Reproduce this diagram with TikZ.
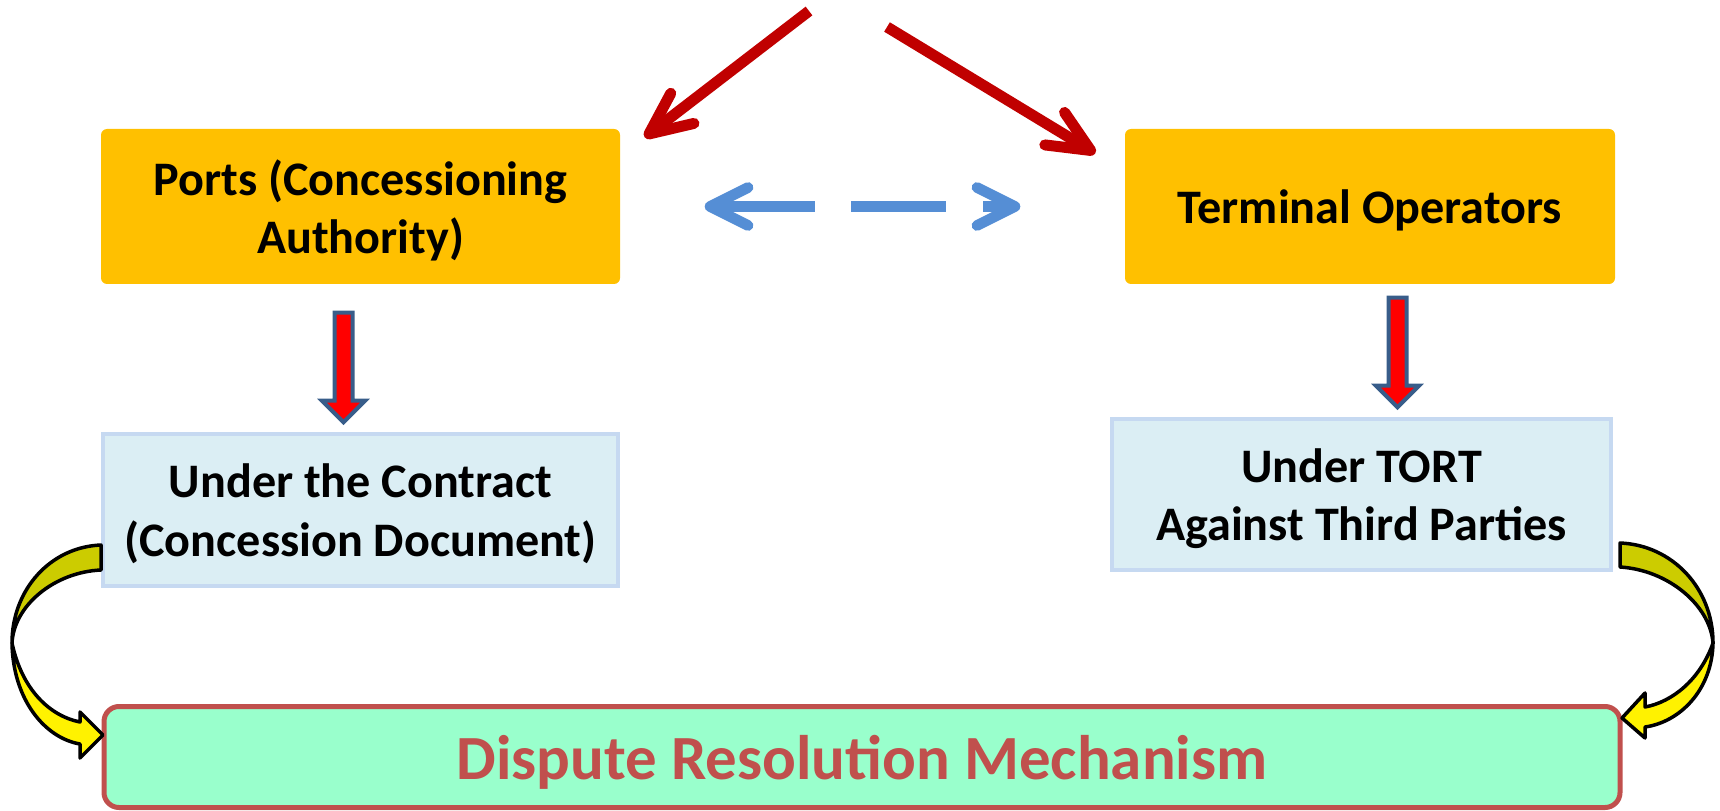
\documentclass[tikz,border=0pt]{standalone}
\usepackage{fontspec}
\setmainfont{Carlito}
\usepackage{tikz}
\usetikzlibrary{arrows.meta, calc}

\definecolor{partyorange}{HTML}{FFC000}
\definecolor{routefill}{HTML}{DBEEF4}
\definecolor{routeline}{HTML}{C6D9F1}
\definecolor{disputefill}{HTML}{99FFCC}
\definecolor{disputered}{HTML}{C0504D}
\definecolor{claimred}{HTML}{C00000}
\definecolor{linkblue}{HTML}{558ED5}
\definecolor{blockedge}{HTML}{385D8A}
\definecolor{ribbonback}{HTML}{CCCC00}

\begin{document}
\begin{tikzpicture}[x=0.1mm, y=-0.1mm,
    party/.style={fill=partyorange, rounded corners=0.6mm, minimum width=51.9mm, minimum height=15.5mm,
        text depth=0pt, align=center, font=\fontsize{13.7}{16.6}\selectfont\bfseries},
    route/.style={draw=routeline, line width=0.4mm, fill=routefill, minimum width=51.5mm, minimum height=15.2mm,
        text depth=0pt, align=center, font=\fontsize{13.7}{16.6}\selectfont\bfseries},
    claim/.style={-{Straight Barb[length=4.2mm, width=3.8mm, round]}, line width=1.1mm, draw=claimred},
    both/.style={{Straight Barb[length=3.8mm, width=3.8mm, round]}-{Straight Barb[length=3.8mm, width=3.8mm, round]},
        line width=1.07mm, draw=linkblue, dash pattern=on 10mm off 3.6mm on 9.5mm off 3.7mm on 6mm},
    blockarr/.style={draw=blockedge, line width=0.4mm, fill=red, line join=miter},
    ribbon/.style={draw=black, line width=0.35mm, line join=round},
]
\useasboundingbox (0,0) rectangle (1720,811);

% Parties
\node[party] (ports) at (360.5,206.5) {Ports (Concessioning\\Authority)};
\node[party, minimum width=49mm] (terminal) at (1370,206.5) {Terminal Operators};

% Claim routes
\node[route] (contract) at (360.5,510) {Under the Contract\\(Concession Document)};
\node[route, minimum width=49.9mm, minimum height=15.1mm] (tort) at (1361.5,494.5) {Under TORT\\Against Third Parties};

% Dispute resolution
\node[draw=disputered, line width=0.5mm, fill=disputefill, rounded corners=1.5mm,
      minimum width=151.6mm, minimum height=10.1mm, text depth=0pt,
      font=\fontsize{17.9}{20}\selectfont\bfseries, text=disputered] (dispute) at (862,757)
      {Dispute Resolution Mechanism};

% Red arrows from above
\coordinate (srcL) at (809,11);
\coordinate (srcR) at (887,27);
\draw[claim] (srcL) -- ([xshift=2.4mm, yshift=-0.9mm]ports.north east);
\draw[claim] (srcR) -- ([xshift=-2.9mm, yshift=-2.5mm]terminal.north west);

% Link between parties
\draw[both] ([xshift=8.4mm]ports.east) -- ([xshift=-10.4mm]terminal.west);

% Block arrows down
\draw[blockarr] ($(ports.south)+(-26,28)$) -- ++(18,0) -- ++(0,88) -- ++(12.5,0) -- ++(-21.5,21.5)
    -- ++(-21.5,-21.5) -- ++(12.5,0) -- cycle;
\draw[blockarr] ($(terminal.south)+(18.5,13)$) -- ++(18,0) -- ++(0,88) -- ++(12.5,0) -- ++(-21.5,21.5)
    -- ++(-21.5,-21.5) -- ++(12.5,0) -- cycle;

% Curved arrow, left
\filldraw[ribbon, fill=ribbonback] (101,545) .. controls (50,547) and (12,590) .. (12,643)
    .. controls (14,605) and (55,572) .. (101,570) -- cycle;
\filldraw[ribbon, fill=yellow] (12,643) .. controls (13,700) and (45,738) .. (80,744) -- (80,758) -- (103,735)
    -- (80,712) -- (80,722) .. controls (50,716) and (22,690) .. (12,643) -- cycle;

% Curved arrow, right
\filldraw[ribbon, fill=ribbonback] (1620,543) .. controls (1672,545) and (1713,588) .. (1713,643)
    .. controls (1710,605) and (1668,570) .. (1620,567) -- cycle;
\filldraw[ribbon, fill=yellow] (1713,643) .. controls (1712,690) and (1680,722) .. (1645,727) -- (1645,738)
    -- (1622,718) -- (1645,693) -- (1645,707) .. controls (1672,702) and (1700,680) .. (1713,643) -- cycle;

\end{tikzpicture}
\end{document}
